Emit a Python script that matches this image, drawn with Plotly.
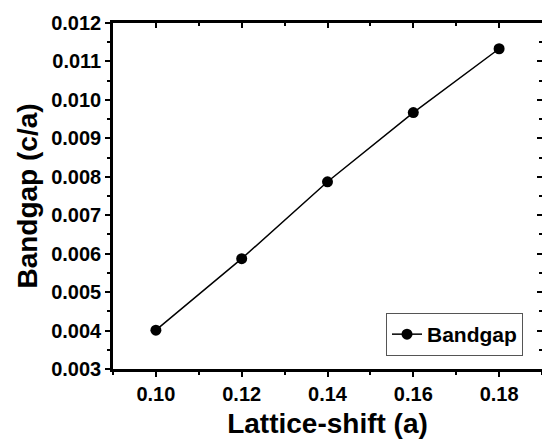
import plotly.graph_objects as go

# Bandgap versus lattice shift
lattice_shift = [0.10, 0.12, 0.14, 0.16, 0.18]
bandgap = [0.00401, 0.00587, 0.00787, 0.00967, 0.01133]

x_ticks = [0.10, 0.12, 0.14, 0.16, 0.18]
x_tick_labels = ["0.10", "0.12", "0.14", "0.16", "0.18"]
y_ticks = [0.003, 0.004, 0.005, 0.006, 0.007, 0.008, 0.009, 0.010, 0.011, 0.012]
y_tick_labels = ["0.003", "0.004", "0.005", "0.006", "0.007", "0.008",
                 "0.009", "0.010", "0.011", "0.012"]

FONT = "Liberation Sans, Arial, sans-serif"
X_RANGE = [0.09, 0.19]
Y_RANGE = [0.003, 0.012]

fig = go.Figure()
fig.add_trace(go.Scatter(
    x=lattice_shift, y=bandgap, mode="lines+markers", name="Bandgap",
    line=dict(color="black", width=1.5),
    marker=dict(color="black", size=11),
))

axis_common = dict(
    showgrid=False, zeroline=False, linecolor="black", linewidth=2.5,
    tickcolor="black", tickwidth=2, ticklen=5,
)
minor_common = dict(ticklen=3, tickwidth=1.5, tickcolor="black", showgrid=False)

fig.update_layout(
    width=542, height=444,
    margin=dict(l=113, r=0, t=23, b=75),
    paper_bgcolor="white", plot_bgcolor="white",
    font=dict(family=FONT, color="black"),
    showlegend=True,
    legend=dict(
        x=(523 - 113) / 429, xanchor="right",
        y=(369 - 313) / 346, yanchor="top",
        bordercolor="#555", borderwidth=1, bgcolor="white",
        font=dict(family=FONT, size=21, color="black", weight="bold"),
        itemwidth=30, tracegroupgap=0,
    ),
    xaxis=dict(
        **axis_common, range=X_RANGE, ticks="outside", showline=True,
        tickvals=x_ticks, ticktext=x_tick_labels,
        minor=dict(**minor_common, dtick=0.01, ticks="outside"),
        tickfont=dict(size=20, weight="bold"),
        title=dict(text="Lattice-shift (a)", font=dict(size=28, weight="bold"), standoff=10),
    ),
    yaxis=dict(
        **axis_common, range=Y_RANGE, ticks="outside", showline=True,
        tickvals=y_ticks, ticktext=y_tick_labels,
        minor=dict(**minor_common, dtick=0.0005, ticks="outside"),
        tickfont=dict(size=20, weight="bold"),
        title=dict(text="Bandgap (c/a)", font=dict(size=28, weight="bold"), standoff=6),
    ),
    xaxis2=dict(
        **axis_common, range=X_RANGE, overlaying="x", side="top", matches="x",
        ticks="inside", tickvals=x_ticks, showticklabels=False, showline=True,
        minor=dict(**minor_common, dtick=0.01, ticks="inside"),
    ),
    yaxis2=dict(
        **axis_common, range=Y_RANGE, overlaying="y", side="right", matches="y",
        ticks="inside", tickvals=y_ticks, showticklabels=False, showline=False,
        minor=dict(**minor_common, dtick=0.0005, ticks="inside"),
    ),
)

# invisible trace to bring the mirrored top/right axes into existence
fig.add_trace(go.Scatter(x=[None], y=[None], xaxis="x2", yaxis="y2",
                         showlegend=False, hoverinfo="skip"))

fig.write_html("out.html")
